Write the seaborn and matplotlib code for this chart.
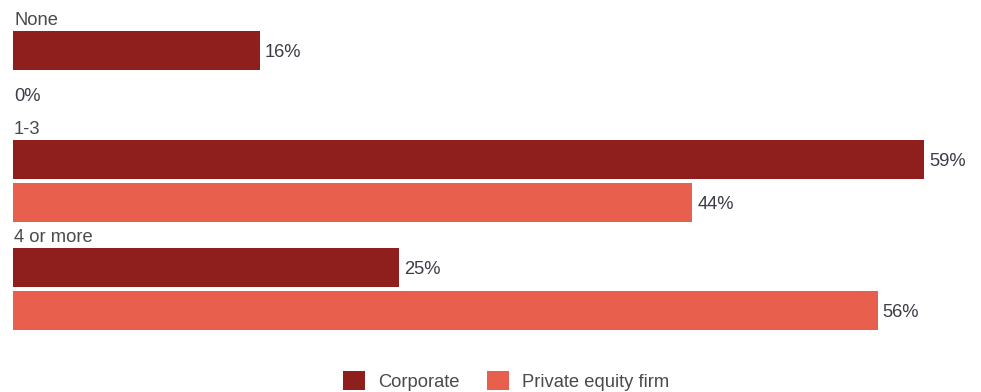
import matplotlib
matplotlib.use("Agg")
import matplotlib.pyplot as plt
import seaborn as sns
import pandas as pd

# Survey answers: number of deals by acquirer type (% of respondents)
categories = ["None", "1-3", "4 or more"]
corporate = [16, 59, 25]
private_equity = [0, 44, 56]
series_names = ["Corporate", "Private equity firm"]
palette = ["#8E1F1D", "#E85F4E"]

df = pd.DataFrame({
    "category": categories * 2,
    "share": corporate + private_equity,
    "type": [series_names[0]] * len(categories) + [series_names[1]] * len(categories),
})

sns.set_theme(style="white")
plt.rcParams["font.family"] = ["Liberation Sans", "DejaVu Sans"]

FS = 13.2
fig = plt.figure(figsize=(9.81, 3.92), dpi=100)
ax = fig.add_axes([0, 0, 1, 1])

sns.barplot(
    data=df, y="category", x="share", hue="type", orient="h",
    palette=palette, saturation=1, width=0.8, gap=0.1, linewidth=0,
    order=categories, hue_order=series_names, ax=ax,
)

# Map the value axis so that 0 sits just inside the left edge
px_per_pct = 911 / 59
ax.set_xlim(-13 / px_per_pct, (981 - 13) / px_per_pct)
ax.set_ylim(1 + (392 - 180.75) / 108.25, 1 + (0 - 180.75) / 108.25)

value_color = "#3C3C48"
label_color = "#4A4A4A"

# Value labels at the end of each bar
for container, values in zip(ax.containers, [corporate, private_equity]):
    for bar, v in zip(container, values):
        ax.annotate(
            f"{v}%",
            (bar.get_width(), bar.get_y() + bar.get_height() / 2),
            xytext=(5 if v else 1, 0), textcoords="offset pixels",
            va="center_baseline", ha="left", fontsize=FS, color=value_color,
        )

# Category headings above each group of bars
for i, cat in enumerate(categories):
    ax.annotate(
        cat, (0, i - 0.435), xytext=(1, 0), textcoords="offset pixels",
        va="baseline", ha="left", fontsize=FS, color=label_color,
    )

ax.set_axis_off()

sns.move_legend(
    ax, "center", bbox_to_anchor=(0.516, 0.028), ncol=2, frameon=False,
    title=None, fontsize=FS, handlelength=1.2, handleheight=1.2,
    handletextpad=0.71, columnspacing=1.48, borderpad=0,
)
for t in ax.get_legend().get_texts():
    t.set_color(label_color)

fig.savefig("out.png", dpi=100)
